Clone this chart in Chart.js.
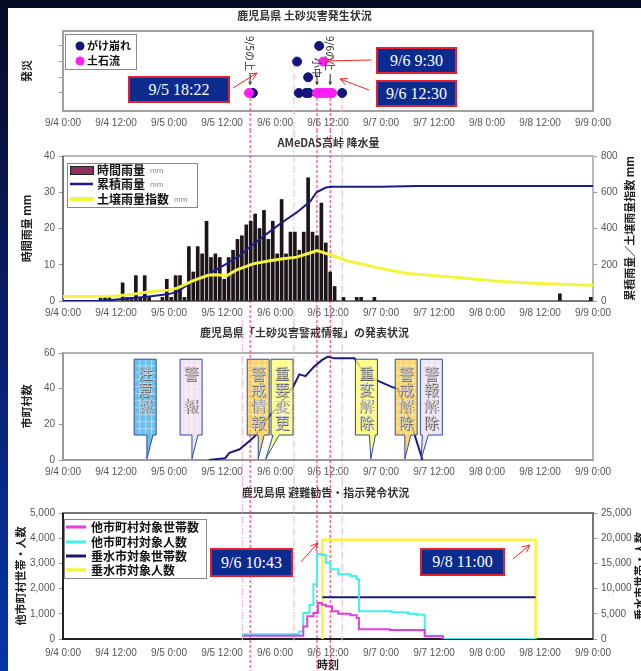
<!DOCTYPE html>
<html>
<head>
<meta charset="utf-8">
<script src="https://cdn.jsdelivr.net/npm/chart.js@4.4.1/dist/chart.umd.min.js"></script>
<style>
html, body { margin: 0; padding: 0; }
body {
  width: 641px; height: 671px; overflow: hidden; position: relative;
  background: linear-gradient(180deg, #060b26 0%, #0a1c66 45%, #0436a8 100%);
}
#sheet { position: absolute; left: 8px; top: 8px; width: 633px; height: 663px; background: #fff; }
canvas { position: absolute; left: 0; }
.tag {
  position: absolute; box-sizing: border-box;
  background: #0b2b8e; border: 2px solid #e3202c; color: #fff;
  font: 16px "Liberation Serif", "Times New Roman", serif;
  display: flex; align-items: center; justify-content: center;
}
</style>
</head>
<body>
<div id="sheet"></div>
<canvas id="c1" width="641" height="122" style="top:8px"></canvas>
<canvas id="c2" width="641" height="190" style="top:130px"></canvas>
<canvas id="c3" width="641" height="160" style="top:320px"></canvas>
<canvas id="c4" width="641" height="191" style="top:480px"></canvas>

<div class="tag" style="left:128px;top:76px;width:102px;height:27px">9/5 18:22</div>
<div class="tag" style="left:376px;top:47px;width:81px;height:27px">9/6 9:30</div>
<div class="tag" style="left:376px;top:80px;width:81px;height:27px">9/6 12:30</div>
<div class="tag" style="left:210px;top:548px;width:83px;height:29px">9/6 10:43</div>
<div class="tag" style="left:420px;top:548px;width:85px;height:28px">9/8 11:00</div>

<script>
// all times are hours after 9/4 0:00
const xTickLabels = ['9/4 0:00','9/4 12:00','9/5 0:00','9/5 12:00','9/6 0:00','9/6 12:00','9/7 0:00','9/7 12:00','9/8 0:00','9/8 12:00','9/9 0:00'];

// panel 1 : disasters
const slideHours  = [43.0, 53.4, 55.0, 55.7, 53.0, 55.5, 58.0, 63.2];
const slideLevels = [1, 1, 1, 1, 3, 2, 4, 1];
const flowHours   = [42.1, 57.5, 58.2, 58.9, 59.5, 60.2, 60.9, 58.9];
const flowLevels  = [1, 1, 1, 1, 1, 1, 1, 3];

// panel 2 : rain (AMeDAS)
const rainHours = [8,9,10,13,14,15,16,17,18,19,22,23,24,25,26,27,
  28,29,30,31,32,33,34,35,36,37,38,39,40,41,42,43,44,45,46,47,48,49,50,51,52,53,54,55,56,57,58,59,60,61,
  63,66,67,70,112,119];
const rainMm = [1,1,1,5,1,1,7,1,7,1,1,6,1,7,7,1,
  15,8,15,13,22,12,13,12,6,12,14,17,18,21,22,24,20,25,17,22,13,28,13,19,19,14,19,34,19,18,27,16,8,4,
  1,1,1,1,2,1];
const cumHours = [0,9,12,16,20,24,26,29.5,33,37,40,42.3,45.3,48,50,53,56,57.4,59.5,61,72,80,120];
const cumMm    = [0,0,8,16,26,38,53,110,150,205,250,298,355,405,440,490,550,600,626,630,631,635,635];
const soilHours = [0,8,12,16,20,24,26,29.5,33,35,37,39.2,43,46.8,49.8,52.9,55.9,57.5,60.5,64.2,68.8,71.8,78,84,90,97,102,108,114,120];
const soilMm    = [25,25,28,38,52,60,72,112,143,145,138,170,205,222,233,242,265,278,255,222,197,180,152,140,128,112,104,96,91,87];

// panel 3 : warning info
const warnHours = [33.0,36.7,37.7,40,41.9,43.3,44.7,46.5,48.4,50.2,52.1,53.5,54.9,56.7,58.6,60,61.4,66,67.9,70.7,74.4,75.8,77.7,79.5,81.4];
const warnCount = [0,1,4,6,10,13,17,24,29,35,41,48,47,52,56,58,57,57,50,45,41,40,28,15,0];
const bubbleLabels   = ['注意報','警　報','警戒情報','重要変更','重変解除','警戒解除','警報解除'];
const bubbleHours    = [18.6, 29.0, 44.2, 49.6, 68.7, 77.7, 83.4];
const bubbleTipHours = [19.0, 29.2, 44.2, 45.9, 69.7, 77.4, 81.1];
const bubbleColors   = ['#45ace2','#eedcef','#ffc93a','#ffff5a','#ffff5a','#ffc93a','#eadcf0'];

// panel 4 : evacuation
const otherHouseHours = [40.6,53.5,54.4,55.3,56.7,57.7,58.6,59.5,60.9,62.3,65.1,66.5,67,74,81.9,86];
const otherHouseVals  = [130,130,500,900,1030,1430,1360,1300,1100,1000,940,830,390,360,110,0];
const otherPeopleHours = [40.6,52,53.5,54.4,55.8,56.7,57.5,58.6,59.5,60.5,62.3,65.1,66.5,67,74.4,78.1,80,81.9,86,107];
const otherPeopleVals  = [190,200,300,1030,1360,2170,3370,3330,3030,2770,2570,2500,2370,1100,1060,1000,960,130,0,0];
const taruHouseHours = [58.72, 107];
const taruHouseVals  = [8300, 8300];
const taruPeopleHours = [58.72, 58.72, 107, 107];
const taruPeopleVals  = [0, 19700, 19700, 0];

// guide lines
const markHours = [42.37, 57.5, 60.5];   // 9/5 18:22, 9/6 9:30, 9/6 12:30
const markFromLevel = [1, 1, 1];
const faintHours = [40.6, 52.3, 63.2];
const faintFromPanel = [3, 1, 1];
const faintFromLevel = [null, 3, 1];

const noteTexts = ['9/5の上', '小中', '9/6の上'];
const noteTop = [4.63, 3.23, 4.63];

const jp = '"Noto Sans CJK JP", "Noto Sans", sans-serif';
const num = '"Liberation Sans", Arial, sans-serif';
const navy = '#14147a';

function pts(xs, ys) { return xs.map((v, i) => ({ x: v, y: ys[i] })); }

function titleOpt(text, top, bottom) {
  return { display: true, text: text, color: '#333', font: { family: jp, size: 11, weight: 'bold' }, padding: { top: top, bottom: bottom } };
}

function xAxis(height, pad, title) {
  return {
    type: 'linear', min: 0, max: 120, offset: false,
    ticks: { stepSize: 12, autoSkip: false, maxRotation: 0, padding: pad, color: '#555',
      font: { family: num, size: 10 }, callback: v => xTickLabels[Math.round(v / 12)] },
    grid: { drawOnChartArea: false, drawTicks: false, offset: false },
    border: { display: false },
    title: title ? { display: true, text: title, color: '#222', font: { family: jp, size: 11, weight: 'bold' }, padding: { top: 0, bottom: 0 } } : { display: false },
    afterFit: s => { s.height = height; }
  };
}

function yAxis(pos, min, max, step, width, title, extra) {
  return Object.assign({
    position: pos, min: min, max: max,
    ticks: { stepSize: step, padding: 4, color: '#555', font: { family: num, size: 10 },
      callback: v => v.toLocaleString('en-US') },
    grid: { drawOnChartArea: false, drawTicks: true, tickLength: 4, color: '#999' },
    border: { display: false },
    title: title ? { display: true, text: title, color: '#222', font: { family: jp, size: 11, weight: 'bold' }, padding: { top: 4, bottom: 0 } } : { display: false },
    afterFit: s => { s.width = width; }
  }, extra || {});
}

function arrow(ctx, x0, y0, x1, y1, len) {
  const a = Math.atan2(y1 - y0, x1 - x0);
  ctx.beginPath();
  ctx.moveTo(x0, y0); ctx.lineTo(x1, y1);
  ctx.moveTo(x1 - len * Math.cos(a - 0.45), y1 - len * Math.sin(a - 0.45));
  ctx.lineTo(x1, y1);
  ctx.lineTo(x1 - len * Math.cos(a + 0.45), y1 - len * Math.sin(a + 0.45));
  ctx.stroke();
}

// plot frame
const frame = {
  id: 'frame',
  beforeDatasetsDraw(chart, args, o) {
    const { ctx, chartArea: c } = chart;
    ctx.save();
    ctx.lineWidth = 2;
    ctx.strokeStyle = o.color;
    ctx.strokeRect(c.left, c.top, c.width, c.height);
    ctx.strokeStyle = o.axis;
    ctx.beginPath();
    ctx.moveTo(c.left, c.top); ctx.lineTo(c.left, c.bottom); ctx.lineTo(c.right, c.bottom);
    ctx.stroke();
    ctx.restore();
  }
};

// dashed guide lines running through all panels
const guides = {
  id: 'guides',
  beforeDatasetsDraw(chart, args, o) {
    const { ctx, scales } = chart;
    const x = scales.x;
    ctx.save();
    ctx.lineWidth = 1;
    faintHours.forEach((h, i) => {
      if (o.panel < faintFromPanel[i]) return;
      const px = x.getPixelForValue(h);
      let y0 = 0, y1 = chart.height;
      if (o.panel === faintFromPanel[i] && faintFromLevel[i] !== null) y0 = scales.y.getPixelForValue(faintFromLevel[i]);
      if (o.panel === 4) y1 = chart.chartArea.bottom + 2;
      ctx.strokeStyle = '#f3b3c2';
      ctx.setLineDash([7, 2, 1, 2]);
      ctx.beginPath(); ctx.moveTo(px, y0); ctx.lineTo(px, y1); ctx.stroke();
    });
    markHours.forEach((h, i) => {
      const px = x.getPixelForValue(h);
      const y0 = o.panel === 1 ? scales.y.getPixelForValue(markFromLevel[i]) : 0;
      ctx.strokeStyle = '#ff2a6a';
      ctx.setLineDash([3, 2]);
      ctx.beginPath(); ctx.moveTo(px, y0); ctx.lineTo(px, chart.height); ctx.stroke();
    });
    ctx.restore();
  }
};

// legend box drawn inside the plot
const boxLegend = {
  id: 'boxLegend',
  afterDatasetsDraw(chart, args, o) {
    const { ctx, chartArea: c } = chart;
    const bx = c.left + o.x, by = c.top + o.y;
    ctx.save();
    ctx.fillStyle = '#fff';
    ctx.strokeStyle = '#888';
    ctx.lineWidth = 1;
    ctx.fillRect(bx, by, o.w, o.h);
    ctx.strokeRect(bx + 0.5, by + 0.5, o.w, o.h);
    chart.data.datasets.forEach((d, i) => {
      const ry = by + o.rows[i];
      const kind = o.kinds[i];
      if (kind === 'dot') {
        ctx.fillStyle = d.backgroundColor;
        ctx.beginPath(); ctx.arc(bx + o.sx + 4, ry, 4.5, 0, Math.PI * 2); ctx.fill();
      } else if (kind === 'box') {
        ctx.fillStyle = '#8e2f5e'; ctx.strokeStyle = '#222';
        ctx.fillRect(bx + o.sx, ry - 4, o.sw, 8);
        ctx.strokeRect(bx + o.sx + 0.5, ry - 3.5, o.sw, 8);
      } else {
        ctx.strokeStyle = d.borderColor; ctx.lineWidth = o.lw[i];
        ctx.beginPath(); ctx.moveTo(bx + o.sx, ry); ctx.lineTo(bx + o.sx + o.sw, ry); ctx.stroke();
      }
      ctx.fillStyle = '#111';
      ctx.font = 'bold ' + o.size + 'px ' + jp;
      ctx.textAlign = 'left'; ctx.textBaseline = 'middle';
      ctx.fillText(d.label, bx + o.tx, ry);
      if (o.unit) {
        const w = ctx.measureText(d.label).width;
        ctx.font = '8px ' + num; ctx.fillStyle = '#888';
        ctx.fillText(o.unit, bx + o.tx + w + 5, ry + 1);
      }
    });
    ctx.restore();
  }
};

// right axis titles (read bottom to top like the left ones)
const rightTitle = {
  id: 'rightTitle',
  afterDraw(chart, args, o) {
    const { ctx, chartArea: c } = chart;
    ctx.save();
    ctx.translate(o.x, (c.top + c.bottom) / 2);
    ctx.rotate(-Math.PI / 2);
    ctx.fillStyle = '#222';
    ctx.font = 'bold 11px ' + jp;
    ctx.textAlign = 'center'; ctx.textBaseline = 'middle';
    ctx.fillText(o.text, 0, 0);
    ctx.restore();
  }
};

// red arrows pointing at marks
const pointers = {
  id: 'pointers',
  afterDraw(chart, args, o) {
    const { ctx, scales } = chart;
    const ys = scales[o.axis];
    ctx.save();
    ctx.strokeStyle = '#ff2020'; ctx.lineWidth = 1;
    o.hours.forEach((h, i) => {
      const px = scales.x.getPixelForValue(h), py = ys.getPixelForValue(o.values[i]);
      arrow(ctx, px + o.tails[i][0], py + o.tails[i][1], px, py, 8);
    });
    ctx.restore();
  }
};

// rotated notes above the disaster dots
const notes = {
  id: 'notes',
  afterDatasetsDraw(chart) {
    const { ctx, scales: { x, y } } = chart;
    ctx.save();
    ctx.fillStyle = '#222'; ctx.strokeStyle = '#222'; ctx.lineWidth = 1;
    ctx.font = '10px ' + jp;
    noteTexts.forEach((t, i) => {
      const px = x.getPixelForValue(markHours[i]);
      ctx.save();
      ctx.translate(px, y.getPixelForValue(noteTop[i]));
      ctx.rotate(Math.PI / 2);
      ctx.textAlign = 'left'; ctx.textBaseline = 'middle';
      ctx.fillText(t, 0, 0);
      ctx.restore();
      arrow(ctx, px, y.getPixelForValue(2.2), px, y.getPixelForValue(1.55), 3);
    });
    ctx.restore();
  }
};

// call-out bubbles in the warning panel
const bubbles = {
  id: 'bubbles',
  afterDatasetsDraw(chart) {
    const { ctx, scales: { x, y } } = chart;
    const top = y.getPixelForValue(56.5), bottom = y.getPixelForValue(14), tipY = y.getPixelForValue(0.6);
    const w = 22;
    ctx.save();
    bubbleLabels.forEach((t, i) => {
      const cx = x.getPixelForValue(bubbleHours[i]);
      const left = cx - w / 2;
      const tipX = x.getPixelForValue(bubbleTipHours[i]);
      const b0 = Math.min(Math.max(tipX, left + 2), left + w - 8);
      ctx.globalAlpha = 0.78;
      ctx.fillStyle = bubbleColors[i];
      ctx.beginPath();
      ctx.moveTo(left, top); ctx.lineTo(left + w, top); ctx.lineTo(left + w, bottom);
      ctx.lineTo(b0 + 6, bottom); ctx.lineTo(tipX, tipY); ctx.lineTo(b0, bottom);
      ctx.lineTo(left, bottom); ctx.closePath();
      ctx.fill();
      ctx.globalAlpha = 1;
      ctx.strokeStyle = 'rgba(255,255,255,0.45)';
      ctx.lineWidth = 1;
      ctx.beginPath();
      for (let gx = left + 5.5; gx < left + w; gx += 6) { ctx.moveTo(gx, top); ctx.lineTo(gx, bottom); }
      for (let gy = top + 6.5; gy < bottom; gy += 7) { ctx.moveTo(left, gy); ctx.lineTo(left + w, gy); }
      ctx.stroke();
      ctx.strokeStyle = '#2a4aa8';
      ctx.beginPath();
      ctx.moveTo(left, top); ctx.lineTo(left + w, top); ctx.lineTo(left + w, bottom);
      ctx.lineTo(b0 + 6, bottom); ctx.lineTo(tipX, tipY); ctx.lineTo(b0, bottom);
      ctx.lineTo(left, bottom); ctx.closePath();
      ctx.stroke();
      ctx.font = '15px ' + jp;
      ctx.textAlign = 'center'; ctx.textBaseline = 'middle';
      Array.from(t).forEach((ch, k) => {
        if (ch === '　') return;
        const cy = top + 14 + k * 16.3;
        ctx.fillStyle = '#666';
        ctx.fillText(ch, cx + 0.8, cy + 0.8);
        ctx.fillStyle = '#c8c8c8';
        ctx.fillText(ch, cx, cy);
      });
    });
    ctx.restore();
  }
};

const common = { animation: false, responsive: false, devicePixelRatio: 1 };

// ---- panel 1
new Chart(document.getElementById('c1'), {
  type: 'scatter',
  data: {
    datasets: [
      { label: 'がけ崩れ', data: pts(slideHours, slideLevels), backgroundColor: navy, borderColor: navy, pointRadius: 4.5, order: 2 },
      { label: '土石流', data: pts(flowHours, flowLevels), backgroundColor: '#ff1ff0', borderColor: '#ff1ff0', pointRadius: 4.5, order: 1 }
    ]
  },
  options: Object.assign({}, common, {
    layout: { padding: { left: 16, right: 48, top: 0, bottom: 0 } },
    plugins: {
      legend: { display: false }, tooltip: { enabled: false },
      title: titleOpt('鹿児島県 土砂災害発生状況', 1.5, 8.3),
      frame: { color: '#a0a0a0', axis: '#a0a0a0' },
      guides: { panel: 1 },
      boxLegend: { x: 2, y: 3, w: 71, h: 35, rows: [12, 27], kinds: ['dot', 'dot'], sx: 11, tx: 22, size: 11 },
      pointers: { axis: 'y', hours: [43.9, 59.8, 62.7], values: [2.27, 3.04, 1.89], tails: [[-24, 15], [44, -1], [29, 11]] }
    },
    scales: {
      x: xAxis(19, 6),
      y: yAxis('left', -0.15, 4.95, 1, 47, '発災', {
        ticks: { display: false },
        afterBuildTicks: s => { s.ticks = [1, 2, 3, 4].map(v => ({ value: v })); }
      })
    }
  }),
  plugins: [frame, guides, notes, boxLegend, pointers]
});

// ---- panel 2
new Chart(document.getElementById('c2'), {
  type: 'bar',
  data: {
    datasets: [
      { type: 'bar', label: '時間雨量', data: pts(rainHours.map(h => h + 0.5), rainMm), backgroundColor: '#1c1418', borderWidth: 0, barThickness: 3, yAxisID: 'y', order: 3 },
      { type: 'line', label: '累積雨量', data: pts(cumHours, cumMm), borderColor: '#1c1c8c', borderWidth: 2, pointRadius: 0, yAxisID: 'y2', order: 2 },
      { type: 'line', label: '土壌雨量指数', data: pts(soilHours, soilMm), borderColor: '#f4f43c', borderWidth: 3, pointRadius: 0, yAxisID: 'y2', order: 1 }
    ]
  },
  options: Object.assign({}, common, {
    layout: { padding: { left: 16, right: 0, top: 0, bottom: 0 } },
    plugins: {
      legend: { display: false }, tooltip: { enabled: false },
      title: titleOpt('AMeDAS高峠 降水量', 6.4, 6.4),
      frame: { color: '#b8b8b8', axis: '#777' },
      guides: { panel: 2 },
      boxLegend: { x: 4, y: 7, w: 130, h: 44, rows: [7, 21, 36], kinds: ['box', 'line', 'line'], lw: [0, 2.5, 4], sx: 3, sw: 23, tx: 30, size: 12, unit: 'mm' },
      rightTitle: { x: 630, text: '累積雨量／土壌雨量指数 mm' }
    },
    scales: {
      x: xAxis(19, 6),
      y: yAxis('left', 0, 40, 10, 47, '時間雨量 mm'),
      y2: yAxis('right', 0, 800, 200, 48, null)
    }
  }),
  plugins: [frame, guides, boxLegend, rightTitle]
});

// ---- panel 3
new Chart(document.getElementById('c3'), {
  type: 'line',
  data: {
    datasets: [
      { label: '市町村数', data: pts(warnHours, warnCount), borderColor: '#1a1a80', borderWidth: 2, pointRadius: 0 }
    ]
  },
  options: Object.assign({}, common, {
    layout: { padding: { left: 16, right: 48, top: 0, bottom: 0 } },
    plugins: {
      legend: { display: false }, tooltip: { enabled: false },
      title: titleOpt('鹿児島県「土砂災害警戒情報」の発表状況', 6.4, 13.4),
      frame: { color: '#b0b0b0', axis: '#999' },
      guides: { panel: 3 }
    },
    scales: {
      x: xAxis(20, 6),
      y: yAxis('left', 0, 60, 20, 47, '市町村数')
    }
  }),
  plugins: [frame, guides, bubbles]
});

// ---- panel 4
new Chart(document.getElementById('c4'), {
  type: 'line',
  data: {
    datasets: [
      { label: '他市町村対象世帯数', data: pts(otherHouseHours, otherHouseVals), borderColor: '#e23de2', borderWidth: 2, pointRadius: 0, stepped: true, yAxisID: 'y', order: 1 },
      { label: '他市町村対象人数', data: pts(otherPeopleHours, otherPeopleVals), borderColor: '#3ff0f0', borderWidth: 2, pointRadius: 0, stepped: true, yAxisID: 'y', order: 2 },
      { label: '垂水市対象世帯数', data: pts(taruHouseHours, taruHouseVals), borderColor: '#1a1a70', borderWidth: 2, pointRadius: 0, yAxisID: 'y2', order: 3 },
      { label: '垂水市対象人数', data: pts(taruPeopleHours, taruPeopleVals), borderColor: '#f6f63a', borderWidth: 2.5, pointRadius: 0, yAxisID: 'y2', order: 4 }
    ]
  },
  options: Object.assign({}, common, {
    layout: { padding: { left: 10, right: 0, top: 0, bottom: 0 } },
    plugins: {
      legend: { display: false }, tooltip: { enabled: false },
      title: titleOpt('鹿児島県 避難勧告・指示発令状況', 6.4, 13.4),
      frame: { color: '#777', axis: '#222' },
      guides: { panel: 4 },
      boxLegend: { x: 1, y: 6, w: 142, h: 59, rows: [8, 23, 37, 51], kinds: ['line', 'line', 'line', 'line'], lw: [3, 3, 3, 3.5], sx: 2, sw: 20, tx: 27, size: 12 },
      rightTitle: { x: 640, text: '垂水市世帯・人数' },
      pointers: { axis: 'y2', hours: [57.7, 105.7], values: [19050, 18650], tails: [[-17, 19], [-17, 14]] }
    },
    scales: {
      x: xAxis(32, 8, '時刻'),
      y: yAxis('left', 0, 5000, 1000, 53, '他市町村世帯・人数', {}),
      y2: yAxis('right', 0, 25000, 5000, 48, null)
    }
  }),
  plugins: [frame, guides, boxLegend, rightTitle, pointers]
});
</script>
</body>
</html>
